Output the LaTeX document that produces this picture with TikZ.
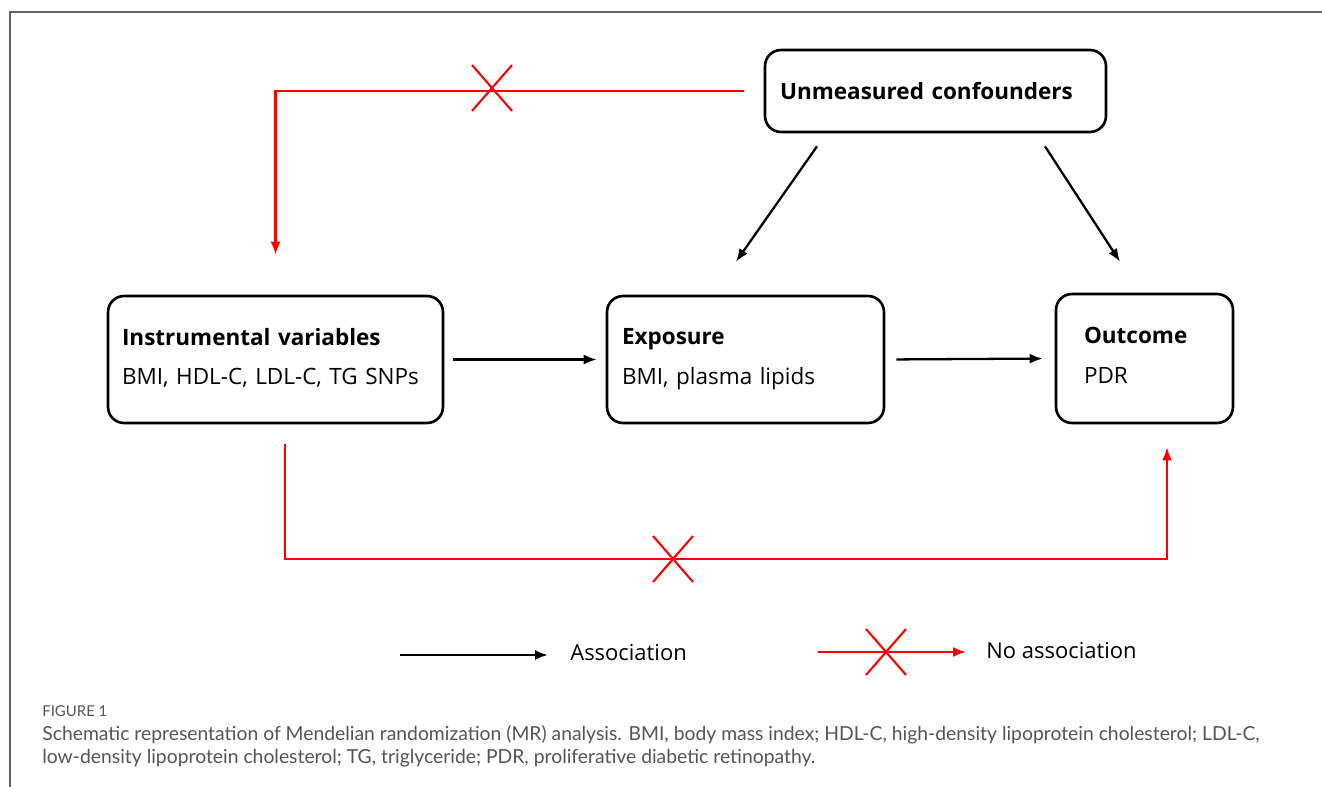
\documentclass[tikz,border=0pt]{standalone}
\usepackage{fontspec}
\usepackage{xcolor}
\usetikzlibrary{arrows.meta}
\setmainfont{Open Sans}
\newfontfamily\capfont{Lato}
\definecolor{noassocred}{RGB}{255,0,0}
\definecolor{framegray}{RGB}{100,100,100}
\definecolor{captiongray}{RGB}{85,85,85}

\begin{document}
\begin{tikzpicture}[x=0.02cm, y=-0.02cm,
    mrbox/.style={draw=black, line width=1.5pt, rounded corners=0.32cm,
      align=left, font=\fontsize{12.8}{22.5}\selectfont, inner ysep=0pt},
    assoc/.style={draw=black, line width=1.3pt, -{Latex[length=0.26cm,width=0.2cm]}},
    noassoc/.style={draw=noassocred, line width=1.3pt, -{Latex[length=0.26cm,width=0.2cm]}},
    crossmark/.pic={\draw[noassocred, line width=1.2pt] (-20,-23) -- (20,23) (-20,23) -- (20,-23);},
    legendtext/.style={anchor=west, inner sep=0pt, font=\fontsize{12.5}{15}\selectfont},
    captext/.style={anchor=base west, inner sep=0pt, text=captiongray}]
    \useasboundingbox (0,0) rectangle (1322,787);

    % Frame
    \draw[framegray, line width=0.6pt] (1322,12) -- (10,12) -- (10,787);

    % Boxes
    \node[mrbox, minimum width=6.82cm, minimum height=1.64cm, inner xsep=0.3cm, text width=6.22cm]
      (uc) at (935.5,91) {\textbf{Unmeasured confounders}};
    \node[mrbox, minimum width=6.7cm, minimum height=2.54cm, inner xsep=0.28cm, text width=6.14cm]
      (iv) at (275.5,359.5) {\textbf{Instrumental variables}\\BMI, HDL-C, LDL-C, TG SNPs\\[-19pt]\mbox{}};
    \node[mrbox, minimum width=5.54cm, minimum height=2.54cm, inner xsep=0.3cm, text width=4.94cm]
      (exp) at (745.5,359.5) {\textbf{Exposure}\\BMI, plasma lipids\\[-19pt]\mbox{}};
    \node[mrbox, minimum width=3.54cm, minimum height=2.58cm, inner xsep=0.56cm, text width=2.42cm]
      (out) at (1144.5,358.5) {\textbf{Outcome}\\PDR\\[-19pt]\mbox{}};

    % Associations
    \draw[assoc, shorten <=0.18cm, shorten >=0.18cm] (iv.east) -- (exp.west);
    \draw[assoc, shorten <=0.22cm, shorten >=0.24cm] (exp.east) -- (out.west);
    \draw[assoc] ([xshift=-2.37cm,yshift=-0.26cm]uc.south) -- ([xshift=-0.19cm,yshift=0.66cm]exp.north);
    \draw[assoc] ([xshift=2.19cm,yshift=-0.26cm]uc.south) -- ([xshift=-0.49cm,yshift=0.62cm]out.north);

    % No associations
    \draw[noassoc, shorten <=0.4cm, shorten >=0.8cm] (uc.west) -| (iv.north);
    \pic at (492,88) {crossmark};
    \coordinate (base) at (673,559);
    \draw[noassoc] ([xshift=0.19cm,yshift=-0.4cm]iv.south) |- (base) -| ([xshift=0.45cm,yshift=-0.46cm]out.south);
    \pic at (base) {crossmark};

    % Legend
    \coordinate (legA) at (400,655);
    \node[legendtext] (assoclabel) at (570,653) {Association};
    \draw[assoc, shorten >=0.44cm] (legA) -- (legA -| assoclabel.west);
    \coordinate (legB) at (818,652);
    \node[legendtext] (noassoclabel) at (986,651) {No association};
    \draw[noassoc, shorten >=0.4cm] (legB) -- (legB -| noassoclabel.west);
    \pic at (886,652) {crossmark};

    % Caption
    \node[captext, font=\capfont\fontsize{8.5}{10}\selectfont] (figlabel) at (42,716) {FIGURE 1};
    \node[captext, font=\capfont\fontsize{11}{13}\selectfont] (capone) at (42,740)
      {Schematic representation of Mendelian randomization (MR) analysis. BMI, body mass index; HDL-C, high-density lipoprotein cholesterol; LDL-C,};
    \node[captext, font=\capfont\fontsize{11}{13}\selectfont] (captwo) at (42,763)
      {low-density lipoprotein cholesterol; TG, triglyceride; PDR, proliferative diabetic retinopathy.};
\end{tikzpicture}
\end{document}
